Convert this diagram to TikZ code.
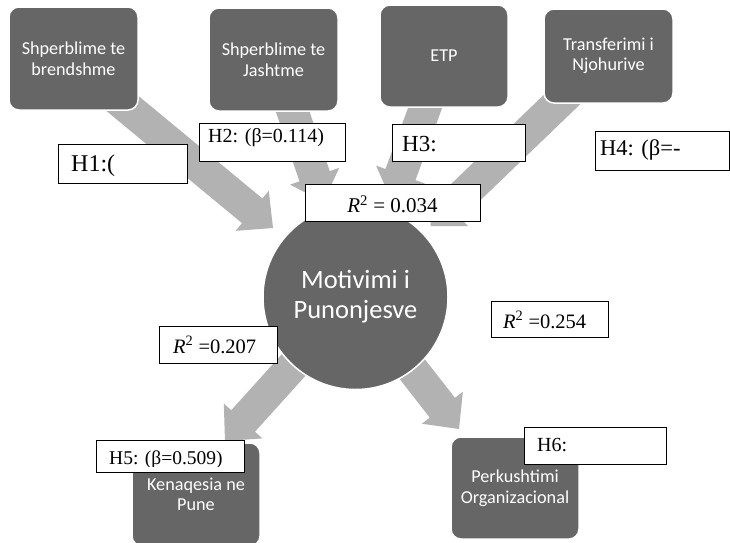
\documentclass[tikz,border=0pt]{standalone}
\usepackage{fontspec}
\setmainfont{Liberation Serif}
\newfontfamily\boxfont{Carlito}
\usetikzlibrary{calc}
\definecolor{boxgray}{RGB}{102,102,102}
\definecolor{arrowgray}{RGB}{178,178,178}
\newcommand{\fatarrow}[2]{%
  \coordinate (#2-h) at ($(#2)!27pt!(#1)$);
  \fill[arrowgray] ($(#1)!16pt!90:(#2)$) -- ($(#2-h)!16pt!90:(#2)$) -- ($(#2-h)!26pt!90:(#2)$) -- (#2)
    -- ($(#2-h)!26pt!-90:(#2)$) -- ($(#2-h)!16pt!-90:(#2)$) -- ($(#1)!16pt!-90:(#2)$) -- cycle;}
\tikzset{
  gbox/.style={rectangle, rounded corners=10pt, fill=boxgray, draw=white, line width=1.5pt,
    text=white, align=center, inner sep=0pt, font=\boxfont\fontsize{18.2}{20.5}\selectfont},
  lbl/.style={rectangle, draw=black, fill=white, line width=0.9pt, inner sep=0pt, anchor=north west},
  ltxt/.style={anchor=base west, inner sep=0pt}
}
\begin{document}
\begin{tikzpicture}[x=1pt,y=-1pt]
\useasboundingbox (0,0) rectangle (730,542);
\clip (0,0) rectangle (730,542);
\fill[white] (0,0) rectangle (730,542);
% arrow end points
\coordinate (a1s) at (111,94);    \coordinate (a1t) at (273,228);
\coordinate (a2s) at (286.3,92.9); \coordinate (a2t) at (323.3,201.8);
\coordinate (a3s) at (428.2,99.5); \coordinate (a3t) at (391.1,199.9);
\coordinate (a4s) at (589.3,73.3); \coordinate (a4t) at (430.5,226);
\coordinate (a5s) at (355.5,296.5); \coordinate (a5t) at (225,441);
\coordinate (a6s) at (355.5,296.5); \coordinate (a6t) at (459,429);
\fatarrow{a1s}{a1t}
\fatarrow{a2s}{a2t}
\fatarrow{a3s}{a3t}
\fatarrow{a4s}{a4t}
\fatarrow{a5s}{a5t}
\fatarrow{a6s}{a6t}
% boxes
\node[gbox, minimum width=129pt, minimum height=103pt] (b1) at (73.5,58.5) {Shperblime te\\brendshme};
\node[gbox, minimum width=129pt, minimum height=103pt] (b2) at (273.5,59.5) {Shperblime te\\Jashtme};
\node[gbox, minimum width=128pt, minimum height=102pt] (b3) at (444,56) {ETP};
\node[gbox, minimum width=129pt, minimum height=94pt] (b4) at (608.5,56) {Transferimi i\\Njohurive};
\node[gbox, minimum width=128pt, minimum height=103pt] (b5) at (196,494.5) {Kenaqesia ne\\Pune};
\node[gbox, minimum width=128pt, minimum height=102pt] (b6) at (515,488) {Perkushtimi\\Organizacional};
\node[circle, fill=boxgray, draw=white, line width=1.5pt, minimum size=185pt, inner sep=0pt,
  text=white, align=center, font=\boxfont\fontsize{26.5}{30}\selectfont] (mot) at (355.5,297) {Motivimi i\\Punonjesve};
% labels
\node[lbl, minimum width=129pt, minimum height=39pt] (h1) at (58,144) {};
\node[ltxt, font=\fontsize{24}{28}\selectfont] (h1t) at (71,171) {H1:(};
\node[lbl, minimum width=146pt, minimum height=38pt] (h2) at (199,123) {};
\node[ltxt, font=\fontsize{20}{24}\selectfont] (h2t) at (208,142.7) {H2: (β=0.114)};
\node[lbl, minimum width=133pt, minimum height=37pt] (h3) at (392,124) {};
\node[ltxt, font=\fontsize{23}{27}\selectfont] (h3t) at (402,151.7) {H3:};
\node[lbl, minimum width=134pt, minimum height=39pt] (h4) at (595,131) {};
\node[ltxt, font=\fontsize{22.5}{26}\selectfont] (h4t) at (600,155) {H4: (β=-};
\node[lbl, minimum width=175pt, minimum height=37pt] (r1) at (305,184) {};
\node[anchor=base, inner sep=0pt, font=\fontsize{21}{25}\selectfont] (r1t) at (392.5,212.7) {\textit{R}\textsuperscript{2} = 0.034};
\node[lbl, minimum width=118pt, minimum height=37pt] (r2) at (159,326) {};
\node[ltxt, font=\fontsize{20.5}{24}\selectfont] (r2t) at (173,353.3) {\textit{R}\textsuperscript{2} =0.207};
\node[lbl, minimum width=117pt, minimum height=36pt] (r3) at (491,301) {};
\node[ltxt, font=\fontsize{20.5}{24}\selectfont] (r3t) at (503,328.3) {\textit{R}\textsuperscript{2} =0.254};
\node[lbl, minimum width=148pt, minimum height=32pt] (h5) at (96,440) {};
\begin{scope}
  \clip (97,441) rectangle (243,466.5);
  \node[ltxt, font=\fontsize{19.5}{23}\selectfont] (h5t) at (109,464.5) {H5: (β=0.509)};
\end{scope}
\node[lbl, minimum width=142pt, minimum height=37pt] (h6) at (524,427) {};
\node[ltxt, font=\fontsize{20}{24}\selectfont] (h6t) at (537,451.7) {H6:};
\end{tikzpicture}
\end{document}
